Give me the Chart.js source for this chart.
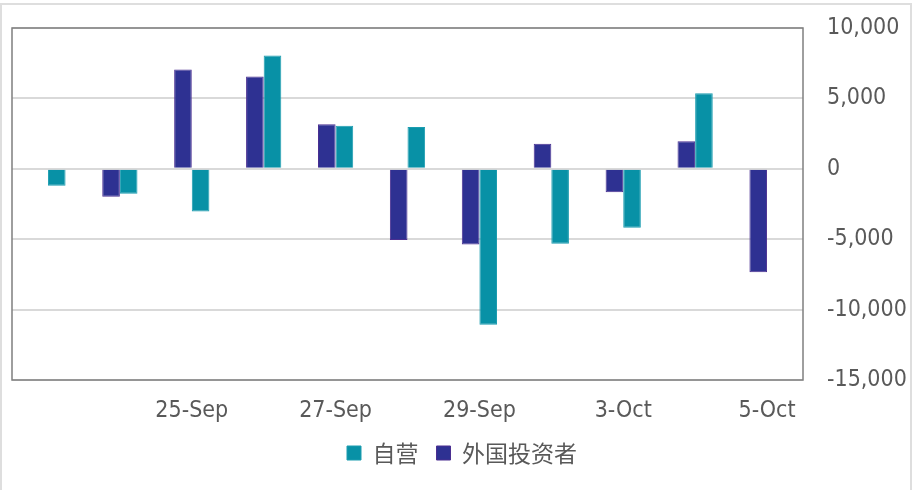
<!DOCTYPE html>
<html>
<head>
<meta charset="utf-8">
<script src="https://cdn.jsdelivr.net/npm/chart.js@4/dist/chart.umd.min.js"></script>
<style>
  html, body { margin: 0; padding: 0; background: #fff; }
  #wrap { width: 912px; height: 490px; position: relative; }
</style>
</head>
<body>
<div id="wrap"><canvas id="myChart" width="912" height="490"></canvas></div>
<script>
// dates (only every other one is labelled on the axis)
var dates = ['23-Sep', '24-Sep', '25-Sep', '26-Sep', '27-Sep', '28-Sep', '29-Sep', '30-Sep', '3-Oct', '4-Oct', '5-Oct'];
// 外国投资者
var foreignData = [0, -1980, 7050, 6550, 3170, -5050, -5380, 1780, -1670, 1960, -7350];
// 自营
var propData = [-1200, -1770, -3040, 8040, 3050, 2960, -11080, -5330, -4190, 5370, 0];
var yTicks = [-15000, -10000, -5000, 0, 5000, 10000];

var tickFont = { family: "'DejaVu Sans Condensed', 'DejaVu Sans', sans-serif", size: 23 };

// plot frame + the thin outer border of the picture
var frame = {
    id: 'frame',
    beforeDraw: function (chart) {
        var c = chart.ctx;
        c.save();
        c.strokeStyle = '#dedede';
        c.lineWidth = 2;
        c.beginPath();
        c.moveTo(1, 490);
        c.lineTo(1, 4);
        c.lineTo(911, 4);
        c.lineTo(911, 490);
        c.stroke();
        c.restore();
    },
    afterDraw: function (chart) {
        var a = chart.chartArea, c = chart.ctx;
        c.save();
        c.strokeStyle = '#7f7f7f';
        c.lineWidth = 1.5;
        c.strokeRect(a.left, a.top, a.right - a.left, a.bottom - a.top);
        c.restore();
    }
};

var ctx = document.getElementById('myChart').getContext('2d');
var chart = new Chart(ctx, {
    type: 'bar',
    data: {
        labels: dates,
        datasets: [{
            label: '外国投资者',
            data: foreignData,
            backgroundColor: '#2E3192',
            borderColor: '#4B2F91',
            borderWidth: 1
        }, {
            label: '自营',
            data: propData,
            backgroundColor: '#0891A6',
            borderColor: '#1C9DB0',
            borderWidth: 1
        }]
    },
    options: {
        responsive: false,
        animation: false,
        devicePixelRatio: 1,
        layout: { padding: { top: 28, left: 12, right: 0, bottom: 15.5 } },
        datasets: { bar: { categoryPercentage: 0.49, barPercentage: 1 } },
        plugins: {
            tooltip: { enabled: false },
            legend: {
                position: 'bottom',
                reverse: true,
                labels: {
                    boxWidth: 14,
                    boxHeight: 14,
                    padding: 18,
                    color: '#595959',
                    font: { family: "'Noto Sans CJK SC', sans-serif", size: 23 }
                }
            }
        },
        scales: {
            x: {
                grid: { display: false, drawTicks: false },
                border: { display: false },
                afterFit: function (s) { s.height = 43.5; },
                ticks: {
                    color: '#595959',
                    font: tickFont,
                    padding: 17,
                    maxRotation: 0,
                    autoSkip: false,
                    callback: function (v, i) {
                        return (i % 2 === 0 && i > 0) ? dates[i] : '';
                    }
                }
            },
            y: {
                position: 'right',
                min: -15000,
                max: 10000,
                afterBuildTicks: function (s) {
                    s.ticks = yTicks.map(function (v) { return { value: v }; });
                },
                afterFit: function (s) {
                    s.width = 109;
                    s.paddingTop = 0;
                    s.paddingBottom = 0;
                },
                grid: { color: '#d9d9d9', lineWidth: 2, drawTicks: false },
                border: { display: false },
                ticks: {
                    color: '#595959',
                    font: tickFont,
                    padding: 24,
                    callback: function (v) { return v.toLocaleString('en-US'); }
                }
            }
        }
    },
    plugins: [frame]
});
</script>
</body>
</html>
